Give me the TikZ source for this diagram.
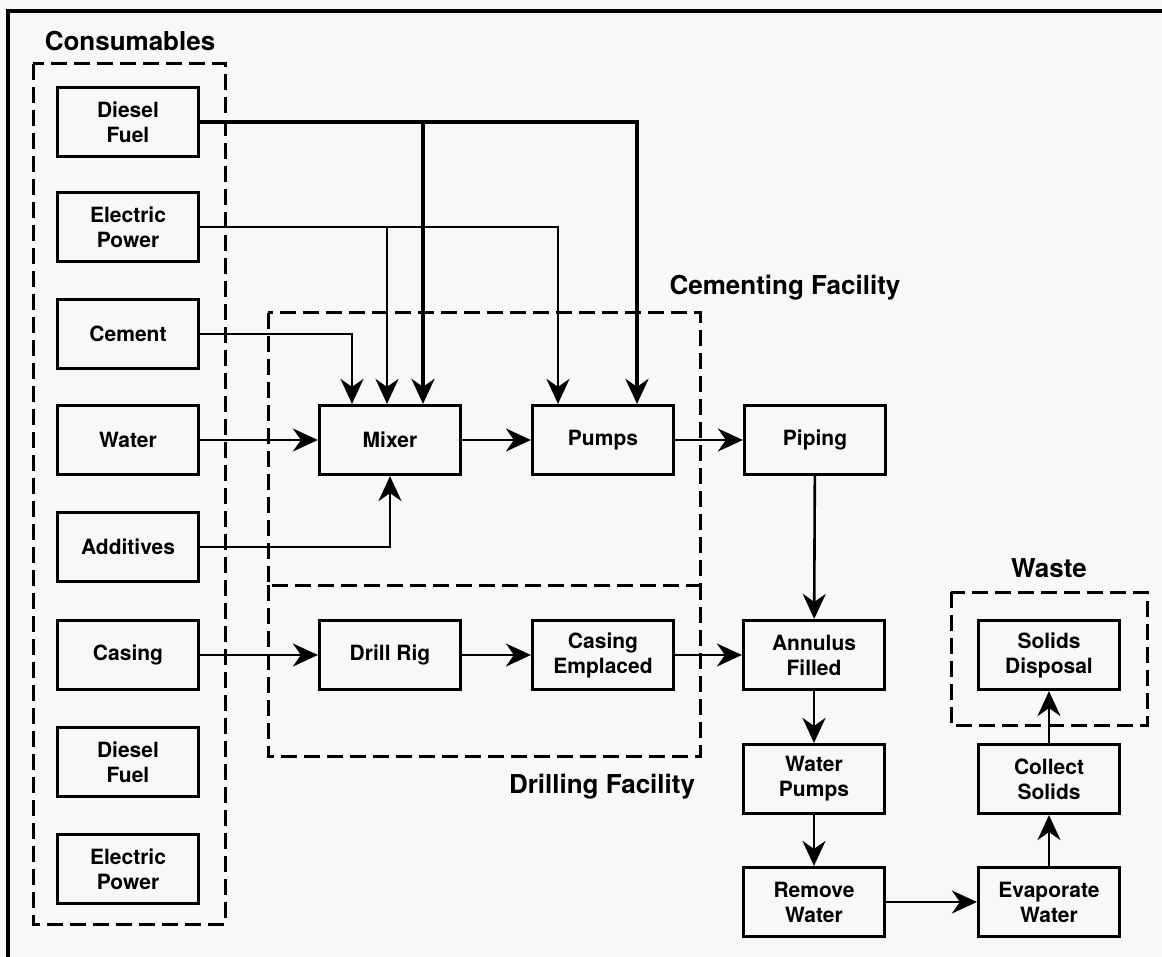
\documentclass[tikz,border=0pt]{standalone}
\usepackage{fontspec}
\setmainfont{TeX Gyre Heros}
\usepackage{xcolor}
\definecolor{paper}{RGB}{247,248,248}
\usetikzlibrary{arrows.meta,calc}

\begin{document}
\begin{tikzpicture}[x=1pt,y=-1pt,
    unit/.style={draw,line width=3.2pt,minimum width=141pt,minimum height=69pt,
        inner sep=0pt,align=center,font=\fontsize{21}{25}\selectfont\bfseries},
    group/.style={draw,line width=3pt,dash pattern=on 16pt off 7pt},
    heading/.style={anchor=base,font=\fontsize{26}{30}\selectfont\bfseries},
    flow/.style={line width=2.6pt,-{Stealth[length=25pt,width=23pt,inset=8pt]}},
    fuel/.style={flow,line width=4.2pt}]
    \useasboundingbox[fill=paper] (0,0) rectangle (1162,957);
    \draw[line width=3.2pt] (8,957) -- (8,11) -- (1162,11);

    % Groups
    \draw[group] (33,64) rectangle (225,924);
    \draw[group] (268,313) rectangle (700,585);
    \draw[group] (268,585) -- (268,756) -- (700,756) -- (700,585);
    \draw[group] (951,592) rectangle (1147,725);
    \node[heading] (conslabel) at (130,51) {Consumables};
    \node[heading] (cemlabel) at (785,295) {Cementing Facility};
    \node[heading] (drilllabel) at (602,793) {Drilling Facility};
    \node[heading] (wastelabel) at (1049,577) {Waste};

    % Consumables
    \node[unit] (diesel1) at (128,122) {Diesel\\Fuel};
    \node[unit] (power1) at (128,227) {Electric\\Power};
    \node[unit] (cement) at (128,334) {Cement};
    \node[unit] (water) at (128,440) {Water};
    \node[unit] (additives) at (128,547) {Additives};
    \node[unit] (casing) at (128,655) {Casing};
    \node[unit] (diesel2) at (128,762) {Diesel\\Fuel};
    \node[unit] (power2) at (128,869) {Electric\\Power};

    % Process
    \node[unit] (mixer) at (390,440) {Mixer};
    \node[unit] (pumps) at (603,440) {Pumps};
    \node[unit] (piping) at (815,440) {Piping};
    \node[unit] (rig) at (390,655) {Drill Rig};
    \node[unit] (emplaced) at (603,655) {Casing\\Emplaced};
    \node[unit] (annulus) at (814,655) {Annulus\\Filled};
    \node[unit] (wpumps) at (814,779) {Water\\Pumps};
    \node[unit] (remove) at (814,902) {Remove\\Water};
    \node[unit] (evaporate) at (1049,902) {Evaporate\\Water};
    \node[unit] (collect) at (1049,779) {Collect\\Solids};
    \node[unit] (disposal) at (1049,655) {Solids\\Disposal};

    % Feeds into mixer and pumps
    \draw[fuel] (diesel1.east) -| ([xshift=34pt]pumps.north);
    \draw[fuel] ([xshift=33pt]mixer.north |- diesel1.east) -- ([xshift=33pt]mixer.north);
    \draw[flow] (power1.east) -| ([xshift=-45pt]pumps.north);
    \draw[flow] ([xshift=-3pt]mixer.north |- power1.east) -- ([xshift=-3pt]mixer.north);
    \draw[flow] (cement.east) -| ([xshift=-38pt]mixer.north);
    \draw[flow] (water) -- (mixer);
    \draw[flow] (additives.east) -| (mixer.south);

    % Main flow
    \draw[flow] (mixer) -- (pumps);
    \draw[flow] (pumps) -- (piping);
    \draw[flow] (piping) -- (annulus);
    \draw[flow] (casing) -- (rig);
    \draw[flow] (rig) -- (emplaced);
    \draw[flow] (emplaced) -- (annulus);
    \draw[flow] (annulus) -- (wpumps);
    \draw[flow] (wpumps) -- (remove);
    \draw[flow] (remove) -- (evaporate);
    \draw[flow] (evaporate) -- (collect);
    \draw[flow] (collect) -- (disposal);
\end{tikzpicture}
\end{document}
